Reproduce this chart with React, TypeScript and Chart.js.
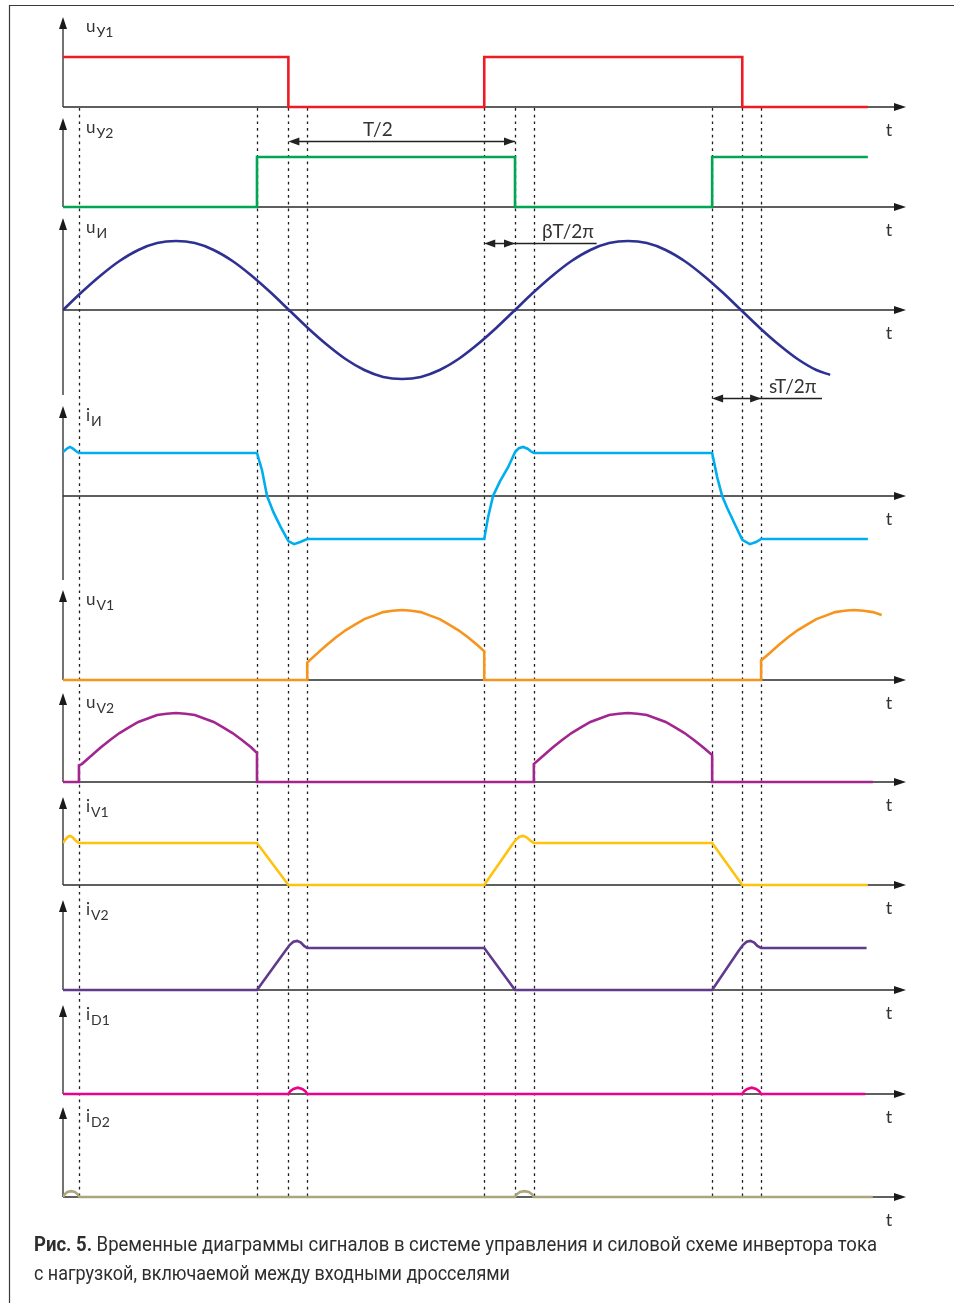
import React, { useEffect, useLayoutEffect, useRef } from "react";
import { Chart, registerables } from "chart.js";

Chart.register(...registerables);

// Time axis in electrical degrees (one period of the load voltage = 360)
const tMax = 670.6;
const eventTimes = [12.7, 154.5, 179.5, 194.5, 335.5, 360, 375, 517, 541, 556];

// u_Y1 — control pulse 1
const uY1T = [0, 179.5, 179.5, 335.5, 335.5, 541, 541, 641];
const uY1V = [1, 1, 0, 0, 1, 1, 0, 0];

// u_Y2 — control pulse 2
const uY2T = [0, 154.5, 154.5, 360, 360, 517, 517, 641];
const uY2V = [0, 0, 1, 1, 0, 0, 1, 1];

// u_И — inverter output voltage
const uInvT = [0, 15, 30, 45, 60, 75, 90, 105, 120, 135, 150, 165, 180, 195, 210, 225, 240, 255, 270, 285, 300, 315, 330, 345, 360, 375, 390, 405, 420, 435, 450, 465, 480, 495, 510, 525, 540, 555, 570, 585, 600, 611];
const uInvV = [0, 0.26, 0.5, 0.71, 0.87, 0.97, 1, 0.97, 0.87, 0.71, 0.5, 0.26, 0, -0.26, -0.5, -0.71, -0.87, -0.97, -1, -0.97, -0.87, -0.71, -0.5, -0.26, 0, 0.26, 0.5, 0.71, 0.87, 0.97, 1, 0.97, 0.87, 0.71, 0.5, 0.26, 0, -0.26, -0.5, -0.71, -0.87, -0.94];

// i_И — inverter output current
const iInvT = [0, 3, 5.5, 8, 10.5, 12.7, 154.5, 158.5, 162.5, 167.5, 173, 179.5, 184, 189, 194.5, 335.5, 338.5, 342.5, 348, 354.5, 360, 363, 366.5, 370, 372.5, 375, 517, 521, 525, 529, 535, 541, 547, 552, 556, 641];
const iInvV = [1.02, 1.1, 1.14, 1.1, 1.04, 1.0, 1.0, 0.6, 0, -0.37, -0.7, -1.05, -1.12, -1.07, -1.0, -1.0, -0.5, 0, 0.34, 0.67, 1.02, 1.11, 1.14, 1.1, 1.04, 1.0, 1.0, 0.44, 0, -0.28, -0.65, -1.02, -1.12, -1.07, -1.0, -1.0];

// u_V1 — voltage across switch V1
const uV1T = [0, 194.5, 194.5, 202.5, 210, 217.5, 225, 232.5, 240, 247.5, 255, 262.5, 270, 277.5, 285, 292.5, 300, 307.5, 315, 322.5, 330, 335.5, 335.5, 556, 556, 562.5, 570, 577.5, 585, 592.5, 600, 607.5, 615, 622.5, 630, 637.5, 645, 652];
const uV1V = [0, 0, 0.25, 0.38, 0.5, 0.61, 0.71, 0.79, 0.87, 0.92, 0.97, 0.99, 1, 0.99, 0.97, 0.92, 0.87, 0.79, 0.71, 0.61, 0.5, 0.41, 0, 0, 0.28, 0.38, 0.5, 0.61, 0.71, 0.79, 0.87, 0.92, 0.97, 0.99, 1, 0.99, 0.97, 0.93];

// u_V2 — voltage across switch V2
const uV2T = [0, 12.7, 12.7, 15, 22.5, 30, 37.5, 45, 52.5, 60, 67.5, 75, 82.5, 90, 97.5, 105, 112.5, 120, 127.5, 135, 142.5, 150, 154.5, 154.5, 375, 375, 382.5, 390, 397.5, 405, 412.5, 420, 427.5, 435, 442.5, 450, 457.5, 465, 472.5, 480, 487.5, 495, 502.5, 510, 517, 517, 645];
const uV2V = [0, 0, 0.24, 0.26, 0.38, 0.5, 0.61, 0.71, 0.79, 0.87, 0.92, 0.97, 0.99, 1, 0.99, 0.97, 0.92, 0.87, 0.79, 0.71, 0.61, 0.5, 0.42, 0, 0, 0.26, 0.38, 0.5, 0.61, 0.71, 0.79, 0.87, 0.92, 0.97, 0.99, 1, 0.99, 0.97, 0.92, 0.87, 0.79, 0.71, 0.61, 0.5, 0.39, 0, 0];

// i_V1 — current of switch V1
const iV1T = [0, 2, 4, 5.5, 7.5, 10, 12.7, 154.5, 179.5, 335.5, 357, 360.5, 363.5, 366.5, 369.5, 372.5, 375, 517, 541, 641];
const iV1V = [1.0, 1.09, 1.15, 1.17, 1.14, 1.06, 1.0, 1.0, 0, 0, 0.93, 1.07, 1.15, 1.17, 1.13, 1.05, 1.0, 1.0, 0, 0];

// i_V2 — current of switch V2
const iV2T = [0, 154.5, 177, 180.5, 183.5, 186.5, 189.5, 192, 194.5, 335.5, 360, 517, 538, 541.5, 544.5, 547.5, 550.5, 553, 556, 640];
const iV2V = [0, 0, 0.93, 1.07, 1.15, 1.17, 1.13, 1.05, 1.0, 1.0, 0, 0, 0.93, 1.07, 1.15, 1.17, 1.13, 1.05, 1.0, 1.0];

// i_D1 — diode D1 current
const iD1T = [0, 179.5, 181, 183.5, 187, 190.5, 193, 194.5, 541, 542.5, 545, 548.5, 552, 554.5, 556, 639];
const iD1V = [0, 0, 0.07, 0.12, 0.15, 0.12, 0.07, 0, 0, 0.07, 0.12, 0.15, 0.12, 0.07, 0, 0];

// i_D2 — diode D2 current
const iD2T = [0, 1.5, 3.5, 6.5, 9.5, 11.5, 13, 360, 361.5, 364, 367.5, 371, 373.5, 375, 645];
const iD2V = [0, 0.07, 0.12, 0.14, 0.12, 0.07, 0, 0, 0.07, 0.12, 0.14, 0.12, 0.07, 0, 0];

const seriesT = [uY1T, uY2T, uInvT, iInvT, uV1T, uV2T, iV1T, iV2T, iD1T, iD2T];
const seriesV = [uY1V, uY2V, uInvV, iInvV, uV1V, uV2V, iV1V, iV2V, iD1V, iD2V];
const seriesSmooth = [false, false, true, false, false, false, false, false, false, false];
const labelMain = ["u", "u", "u", "i", "u", "u", "i", "i", "i", "i"];
const labelSub = ["У1", "У2", "И", "И", "V1", "V2", "V1", "V2", "D1", "D2"];
const seriesColors = ["#ed1c24", "#00a651", "#2e3192", "#00aeef", "#f7941d", "#a3268f", "#ffc20e", "#603a8c", "#ec008c", "#aca67c"];

// Dimension arrows: panel index, from/to time, level in panel units, tail end, text
const dimPanel = [1, 2, 2];
const dimFrom = [179.5, 335.5, 517];
const dimTo = [360, 360, 556];
const dimLevel = [1.32, 0.97, -1.275];
const dimTail = [360, 425, 604.5];
const dimText = ["T/2", "βT/2π", "sT/2π"];
const dimTextAt = [239, 381.5, 562.3];

const captionBold = "Рис. 5.";
const captionLine1 = " Временные диаграммы сигналов в системе управления и силовой схеме инвертора тока";
const captionLine2 = "с нагрузкой, включаемой между входными дросселями";

// Layout of the stacked panels (pixels)
const W = 954;
const H = 1303;
const panelLayout = [
  { top: 12, bottom: 113, base: 107, unit: 50, below: 0 },
  { top: 113, bottom: 213, base: 207, unit: 50, below: 0 },
  { top: 213, bottom: 401, base: 310, unit: 69, below: 85 },
  { top: 401, bottom: 585, base: 496, unit: 43, below: 84 },
  { top: 585, bottom: 688, base: 680, unit: 70, below: 0 },
  { top: 688, bottom: 792, base: 782, unit: 69, below: 0 },
  { top: 792, bottom: 895, base: 885, unit: 42, below: 0 },
  { top: 895, bottom: 1000, base: 990, unit: 42, below: 0 },
  { top: 1000, bottom: 1102, base: 1094, unit: 42, below: 0 },
  { top: 1102, bottom: 1206, base: 1197, unit: 42, below: 0 },
];
const LEFT = 63;
const RIGHT = 905;
const FONT = '"Lato", "Open Sans", "DejaVu Sans", sans-serif';

function arrowHead(ctx: CanvasRenderingContext2D, tx: number, ty: number, dx: number, dy: number, len: number, half: number) {
  const bx = tx - dx * len;
  const by = ty - dy * len;
  const px = -dy;
  const py = dx;
  ctx.beginPath();
  ctx.moveTo(tx, ty);
  ctx.lineTo(bx + px * half, by + py * half);
  ctx.lineTo(bx - px * half, by - py * half);
  ctx.closePath();
  ctx.fill();
}

const decorPlugin = {
  id: "decor",
  beforeDatasetsDraw(chart: any) {
    const { ctx, scales } = chart;
    const xs = scales.x;
    ctx.save();
    // outer frame
    ctx.strokeStyle = "#3a3a3a";
    ctx.lineWidth = 1.2;
    ctx.beginPath();
    ctx.moveTo(9.5, H);
    ctx.lineTo(9.5, 5.5);
    ctx.lineTo(W, 5.5);
    ctx.stroke();

    // dashed event lines
    const yTop = scales.y0.getPixelForValue(0);
    const yBot = scales["y" + (panelLayout.length - 1)].getPixelForValue(0);
    ctx.setLineDash([2.7, 4]);
    ctx.strokeStyle = "#1e1e1e";
    ctx.lineWidth = 1.3;
    eventTimes.forEach((t) => {
      const x = Math.round(xs.getPixelForValue(t)) + 0.5;
      ctx.beginPath();
      ctx.moveTo(x, yTop + 1);
      ctx.lineTo(x, yBot);
      ctx.stroke();
    });
    ctx.setLineDash([]);

    // axes
    const x0 = xs.left;
    const xr = xs.right;
    panelLayout.forEach((p, i) => {
      const ys = scales["y" + i];
      const y0 = ys.getPixelForValue(0);
      const tip = ys.top + 5;
      ctx.strokeStyle = "#5a5a5a";
      ctx.lineWidth = 1.7;
      ctx.beginPath();
      ctx.moveTo(x0, tip + 10);
      ctx.lineTo(x0, y0 + p.below);
      ctx.stroke();
      ctx.fillStyle = "#1a1a1a";
      arrowHead(ctx, x0, tip, 0, -1, 12, 4);

      ctx.strokeStyle = "#2a2a2a";
      ctx.lineWidth = 1.3;
      ctx.beginPath();
      ctx.moveTo(x0, y0);
      ctx.lineTo(xr - 8, y0);
      ctx.stroke();
      arrowHead(ctx, xr + 1, y0, 1, 0, 12, 4);
    });
    ctx.restore();
  },
  afterDatasetsDraw(chart: any) {
    const { ctx, scales } = chart;
    const xs = scales.x;
    ctx.save();
    ctx.fillStyle = "#333";
    ctx.textBaseline = "alphabetic";
    panelLayout.forEach((p, i) => {
      const ys = scales["y" + i];
      const tip = ys.top + 5;
      const y0 = ys.getPixelForValue(0);
      const by = tip + 15;
      ctx.font = `17px ${FONT}`;
      ctx.textAlign = "left";
      ctx.fillText(labelMain[i], 86, by);
      const w = ctx.measureText(labelMain[i]).width;
      ctx.font = `14px ${FONT}`;
      ctx.fillText(labelSub[i], 86 + w + 1, by + 5);
      // time label
      ctx.font = `18px ${FONT}`;
      ctx.textAlign = "center";
      ctx.fillText("t", 889, y0 + 29);
    });

    // dimension arrows
    ctx.strokeStyle = "#222";
    ctx.fillStyle = "#222";
    ctx.lineWidth = 1.3;
    dimText.forEach((txt, k) => {
      const ys = scales["y" + dimPanel[k]];
      const y = Math.round(ys.getPixelForValue(dimLevel[k])) + 0.5;
      const xa = xs.getPixelForValue(dimFrom[k]);
      const xb = xs.getPixelForValue(dimTo[k]);
      const xt = xs.getPixelForValue(dimTail[k]);
      ctx.beginPath();
      ctx.moveTo(xa + 6, y);
      ctx.lineTo(Math.max(xb, xt), y);
      ctx.stroke();
      arrowHead(ctx, xa, y, -1, 0, 11, 4);
      arrowHead(ctx, xb, y, 1, 0, 11, 4);
      ctx.fillStyle = "#333";
      ctx.font = `19px ${FONT}`;
      ctx.textAlign = "left";
      ctx.fillText(txt, xs.getPixelForValue(dimTextAt[k]), y - 6);
      ctx.fillStyle = "#222";
    });
    ctx.restore();
  },
};

function Caption() {
  const l1 = useRef<HTMLDivElement>(null);
  const l2 = useRef<HTMLDivElement>(null);
  useLayoutEffect(() => {
    const fit = (el: HTMLDivElement | null, target: number) => {
      if (!el) return;
      el.style.transform = "none";
      const w = el.getBoundingClientRect().width;
      if (w > 0) el.style.transform = `scaleX(${target / w})`;
    };
    fit(l1.current, 843);
    fit(l2.current, 476);
  }, []);
  const base: React.CSSProperties = {
    position: "fixed",
    left: 34,
    display: "inline-block",
    whiteSpace: "pre",
    fontFamily: '"Roboto", "Noto Sans", sans-serif',
    fontSize: 21,
    lineHeight: "29px",
    color: "#2e2e2e",
    transformOrigin: "0 0",
  };
  return (
    <>
      <div ref={l1} style={{ ...base, top: 1230 }}>
        <b style={{ fontWeight: 700 }}>{captionBold}</b>
        {captionLine1}
      </div>
      <div ref={l2} style={{ ...base, top: 1259 }}>
        {captionLine2}
      </div>
    </>
  );
}

export default function App() {
  const canvasRef = useRef<HTMLCanvasElement>(null);
  useEffect(() => {
    const canvas = canvasRef.current;
    if (!canvas) return;
    const scales: any = {
      x: { type: "linear", min: 0, max: tMax, display: false, bounds: "data" },
    };
    panelLayout.forEach((p, i) => {
      scales["y" + i] = {
        type: "linear",
        position: "left",
        stack: "panels",
        stackWeight: p.bottom - p.top,
        weight: 100 - i,
        min: (p.base - p.bottom) / p.unit,
        max: (p.base - p.top) / p.unit,
        bounds: "data",
        display: false,
      };
    });
    const datasets = seriesT.map((ts, i) => ({
      label: labelMain[i] + labelSub[i],
      data: ts.map((t, j) => ({ x: t, y: seriesV[i][j] })),
      borderColor: seriesColors[i],
      borderWidth: 2.6,
      borderJoinStyle: "miter" as const,
      pointRadius: 0,
      fill: false,
      tension: 0,
      cubicInterpolationMode: seriesSmooth[i] ? ("monotone" as const) : ("default" as const),
      xAxisID: "x",
      yAxisID: "y" + i,
    }));
    const chart = new Chart(canvas, {
      type: "line",
      data: { datasets },
      options: {
        responsive: false,
        maintainAspectRatio: false,
        animation: false,
        events: [],
        layout: {
          padding: {
            left: LEFT,
            right: W - RIGHT,
            top: panelLayout[0].top,
            bottom: H - panelLayout[panelLayout.length - 1].bottom,
          },
        },
        plugins: { legend: { display: false }, tooltip: { enabled: false } },
        scales,
      },
      plugins: [decorPlugin],
    });
    return () => chart.destroy();
  }, []);
  return (
    <div>
      <canvas ref={canvasRef} width={W} height={H} style={{ position: "fixed", left: 0, top: 0, background: "#fff" }} />
      <Caption />
    </div>
  );
}
